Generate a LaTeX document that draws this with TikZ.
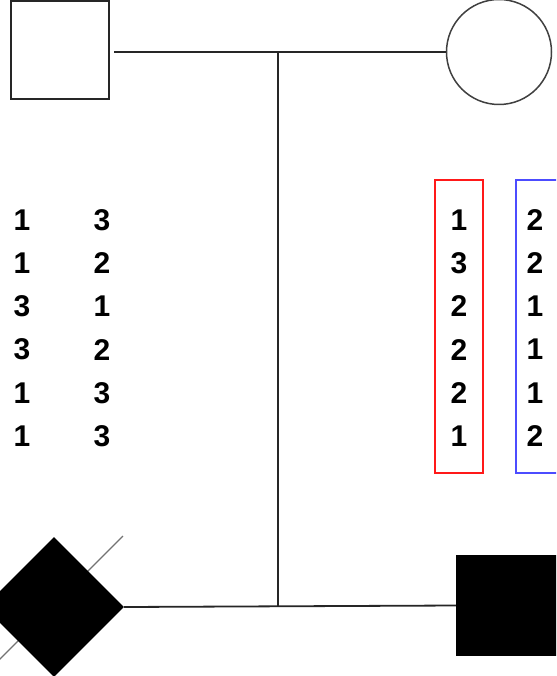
\documentclass[tikz,border=0pt]{standalone}
\usepackage{fontspec}
\setmainfont{Liberation Sans}
\usetikzlibrary{shapes.geometric}
\begin{document}
\begin{tikzpicture}[x=1pt,y=-1pt,
  ln/.style={line width=1.8pt, black!85},
  num/.style={font=\bfseries\fontsize{30}{30}\selectfont, inner sep=0pt, anchor=center},
  hbox/.style={draw, line width=1.6pt, minimum width=48pt, minimum height=293pt, inner sep=0pt}]
\useasboundingbox (0,0) rectangle (556,676);
\clip (0,0) rectangle (556,676);
\fill[white] (0,0) rectangle (556,676);
% parents
\node[draw, line width=2pt, black!85, minimum size=98pt, inner sep=0pt] (f) at (59.5,50.5) {};
\node[draw=black!75, circle, line width=1.5pt, minimum size=105pt, inner sep=0pt] (m) at (499,52) {};
\coordinate (fl) at (114,52);
\coordinate (top) at (278,52);
\coordinate (bot) at (278,607);
\draw[ln] (fl) -- (m.west);
\draw[ln] (top) -- (bot);
% children
\coordinate (sa) at (123,536);
\coordinate (sb) at (-20,679);
\draw[black!55, line width=1.3pt] (sa) -- (sb);
\node[diamond, fill=black, minimum width=140pt, minimum height=140pt, inner sep=0pt] (d) at (54,607) {};
\node[fill=black, minimum size=101pt, inner sep=0pt] (s) at (506.5,605.5) {};
\draw[ln] (d.east) -- (s.west);
% haplotype boxes
\node[hbox, draw=red!90] (rb) at (459,326.5) {};
\node[hbox, draw=blue!70, minimum width=64pt] (bb) at (548,326.5) {};
% numbers
\foreach \a/\b/\c/\d [count=\i from 0] in {1/3/1/2, 1/2/3/2, 3/1/2/1, 3/2/2/1, 1/3/2/1, 1/3/1/2} {
  \node[num] (l\i) at (22,220+43.2*\i) {\a};
  \node[num] (r\i) at (102,220+43.2*\i) {\b};
  \node[num] (p\i) at (459,220+43.2*\i) {\c};
  \node[num] (q\i) at (535,220+43.2*\i) {\d};
}
\end{tikzpicture}
\end{document}
